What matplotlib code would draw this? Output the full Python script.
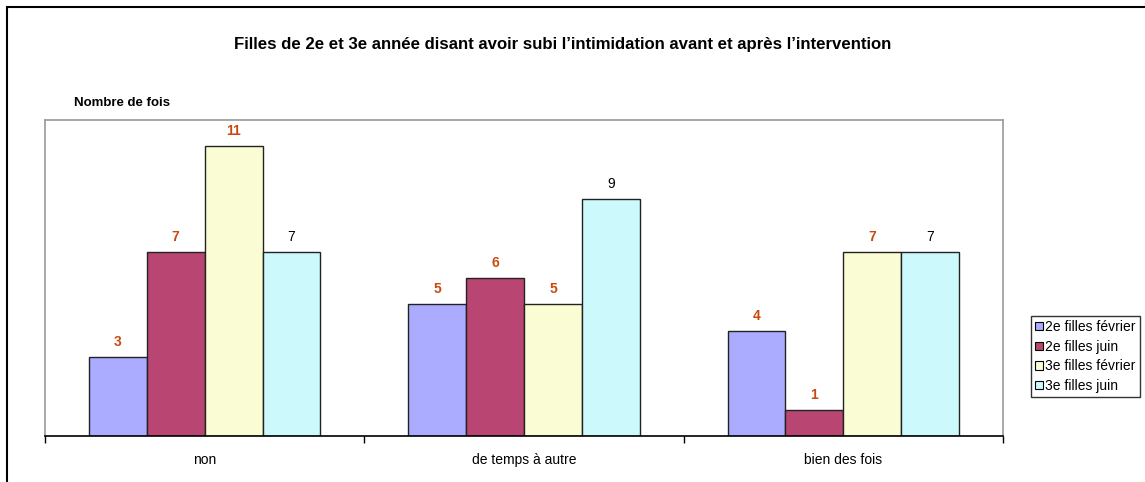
import numpy as np
import matplotlib.pyplot as plt
from matplotlib.patches import Rectangle, Patch

plt.rcParams['font.family'] = ['Liberation Sans', 'DejaVu Sans']

categories = ['non', 'de temps à autre', 'bien des fois']
series = ['2e filles février', '2e filles juin', '3e filles février', '3e filles juin']
values = [
    [3, 5, 4],
    [7, 6, 1],
    [11, 5, 7],
    [7, 9, 7],
]
colors = ['#ABABFF', '#B94573', '#FAFCD4', '#CCFAFC']

fig = plt.figure(figsize=(11.45, 4.82), dpi=100)
W, H = 1145, 482

# outer frame
fig.patches.append(Rectangle((7 / W, -0.1), 1.2, 1 - 7 / H + 0.1, transform=fig.transFigure,
                             fill=False, edgecolor='black', linewidth=1.5))

ax = fig.add_axes([45 / W, 1 - 436 / H, (1003 - 45) / W, (436 - 120) / H])

x = np.arange(len(categories))
bw = 0.18125
for i, (name, vals) in enumerate(zip(series, values)):
    pos = x + (i - 1.5) * bw
    bars = ax.bar(pos, vals, bw, color=colors[i], edgecolor='#222222', linewidth=1, label=name)
    for b, v in zip(bars, vals):
        if i < 3:
            ax.text(b.get_x() + b.get_width() / 2, v + 0.3, str(v), ha='center', va='bottom',
                    fontsize=10, fontweight='bold', color='#C84A10')
        else:
            ax.text(b.get_x() + b.get_width() / 2, v + 0.3, str(v), ha='center', va='bottom',
                    fontsize=10, color='black')

ax.set_xlim(-0.5, 2.5)
ax.set_ylim(0, 12)
ax.set_yticks([])
ax.set_xticks([-0.5, 0.5, 1.5, 2.5])
ax.set_xticklabels([])
ax.set_xticks(x, minor=True)
ax.set_xticklabels(categories, minor=True, fontsize=10)
ax.tick_params(axis='x', which='minor', length=0, pad=12)
ax.tick_params(axis='x', which='major', length=5, width=1, direction='out')
for s in ['left', 'top', 'right']:
    ax.spines[s].set_color('#999999')
    ax.spines[s].set_linewidth(1.2)
ax.spines['bottom'].set_color('black')
ax.spines['bottom'].set_linewidth(1.2)

fig.text(563 / W, 1 - 45 / H, 'Filles de 2e et 3e année disant avoir subi l’intimidation avant et après l’intervention',
         ha='center', va='center', fontsize=12.1, fontweight='bold')
fig.text(74 / W, 1 - 103 / H, 'Nombre de fois', ha='left', va='center', fontsize=9.5, fontweight='bold')

handles = [Patch(facecolor=c, edgecolor='black', linewidth=0.8) for c in colors]
leg = fig.legend(handles, series, loc='upper left', bbox_to_anchor=(1031 / W, 1 - 316 / H),
                 fontsize=10, frameon=True, fancybox=False, edgecolor='black',
                 handlelength=0.55, handleheight=0.55, handletextpad=0.15,
                 borderpad=0.3, labelspacing=0.4, borderaxespad=0)
leg.get_frame().set_linewidth(1)

fig.savefig('out.png', dpi=100)
